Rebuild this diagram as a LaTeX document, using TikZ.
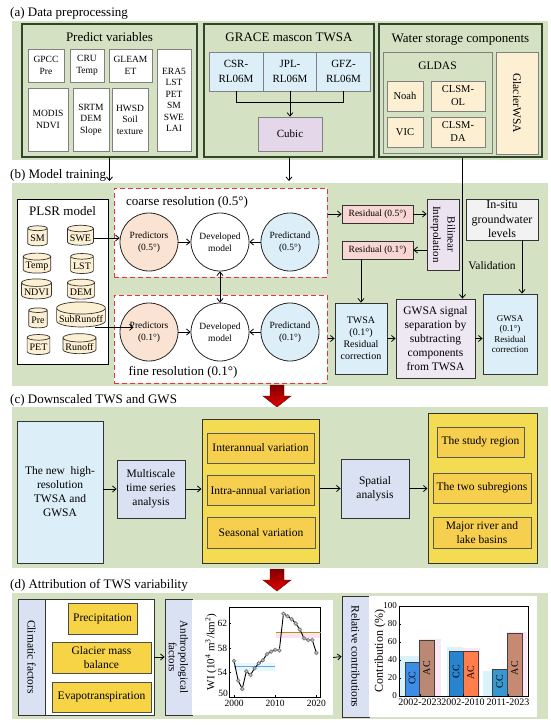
\documentclass[tikz,border=0pt]{standalone}
\usepackage{fontspec}
\setmainfont{Liberation Serif}
\usetikzlibrary{shapes.geometric,arrows.meta,positioning,calc}

\definecolor{bggreen}{HTML}{D4E2C3}
\definecolor{dkgreen}{HTML}{30452A}
\definecolor{ltblue}{HTML}{DCEEF8}
\definecolor{lilac}{HTML}{E4D7EA}
\definecolor{cream}{HTML}{FCEFD2}
\definecolor{peach}{HTML}{FBE3D3}
\definecolor{rosy}{HTML}{F8D6D3}
\definecolor{paleviolet}{HTML}{EEE8F2}
\definecolor{periwinkle}{HTML}{D9E1F2}
\definecolor{gold}{HTML}{F6CF4E}
\definecolor{goldlt}{HTML}{F4DC52}
\definecolor{dashred}{HTML}{E8323C}
\definecolor{ccblue}{HTML}{3D8DE8}
\definecolor{acbrown}{HTML}{C68A72}

\begin{document}
\begin{tikzpicture}[x=1pt,y=-1pt,>={Straight Barb[length=3.5pt,width=6pt]},
    every node/.style={align=center,inner sep=1pt},
    dims/.style 2 args={minimum width=#1pt,minimum height=#2pt},
    f9/.style={font=\fontsize{9}{10.5}\selectfont},
    f95/.style={font=\fontsize{9.5}{11.5}\selectfont},
    f10/.style={font=\fontsize{10}{12}\selectfont},
    f105/.style={font=\fontsize{10.5}{13}\selectfont},
    f11/.style={font=\fontsize{11}{14.5}\selectfont},
    f115/.style={font=\fontsize{11.5}{14}\selectfont},
    f12/.style={font=\fontsize{12}{14.5}\selectfont},
    f13/.style={font=\fontsize{13}{15}\selectfont},
    sectitle/.style={anchor=west,f13},
    grpbox/.style={draw=dkgreen,line width=1.4pt,fill=bggreen},
    varbox/.style={draw=gray,fill=white,line width=0.7pt,f95},
    mascon/.style={draw=gray,fill=ltblue,line width=0.7pt,dims={54}{39},f11},
    lsm/.style={draw=gray,fill=cream,line width=0.7pt,f105},
    mbox/.style={draw=black!80,line width=0.8pt},
    cyl/.style={cylinder,shape border rotate=90,aspect=0.25,draw=black!80,line width=0.7pt,
        fill=cream,minimum height=20pt,inner xsep=2.5pt,inner ysep=1pt,f10},
    circ/.style={circle,draw=black!85,line width=0.8pt,minimum size=58pt,inner sep=0pt,f95},
    resbox/.style={draw=dashred,dash pattern=on 5pt off 3pt,line width=1pt,fill=white},
    ybox/.style={draw=black!80,line width=1pt,fill=goldlt},
    ibox/.style={draw=black!65,line width=0.7pt,fill=gold,f115},
    dbox/.style={draw=black!70,line width=0.7pt,fill=gold!90!yellow,f115},
    lnk/.style={->,line width=0.8pt},
    wire/.style={line width=0.8pt}
]
\useasboundingbox (0,0) rectangle (550,726);

% (a) data preprocessing
\fill[bggreen] (12,21) rectangle (548,160);
\node[sectitle] (ta) at (9,13) {(a) Data preprocessing};

\node[grpbox,dims={175}{133}] (pv) at (109.5,90.5) {};
\node[f13] (pvt) at (109.5,37) {Predict variables};
\node[varbox,dims={36}{33}] (gpcc) at (46,65.5) {GPCC\\Pre};
\node[varbox,dims={34}{33}] (cru) at (87,65.5) {CRU\\Temp};
\node[varbox,dims={43}{33}] (gleam) at (130.5,65.5) {GLEAM\\ET};
\node[varbox,dims={34}{102}] (era5) at (174,100) {ERA5\\LST\\PET\\SM\\SWE\\LAI};
\node[varbox,dims={40}{63}] (modis) at (48,119.5) {MODIS\\NDVI};
\node[varbox,dims={36}{63}] (srtm) at (91,119.5) {SRTM\\DEM\\Slope};
\node[varbox,dims={36}{63}] (hwsd) at (130,119.5) {HWSD\\Soil\\texture};

\node[grpbox,dims={170}{133}] (grace) at (289,90.5) {};
\node[f13] (gracet) at (289,37) {GRACE mascon TWSA};
\node[mascon] (csr) at (236,71.5) {CSR-\\RL06M};
\node[mascon] (jpl) at (290,71.5) {JPL-\\RL06M};
\node[mascon] (gfz) at (343.5,71.5) {GFZ-\\RL06M};
\node[draw=gray,fill=lilac,line width=0.7pt,dims={64}{34},f11] (cubic) at (290,134) {Cubic};
\draw[wire] (csr.south) -- ++(0,11) -| (gfz.south);
\draw[lnk] (jpl.south) -- (cubic.north);

\node[grpbox,dims={163}{133}] (water) at (460.5,90.5) {};
\node[f13] (watert) at (460.5,40) {Water storage components};
\node[draw=gray,fill=bggreen,line width=0.7pt,dims={109}{101}] (gldas) at (437.5,102.5) {};
\node[f115] (gldast) at (437.5,66) {GLDAS};
\node[lsm,dims={36}{30}] (noah) at (405,96) {Noah};
\node[lsm,dims={54}{30}] (clsmol) at (458,96) {CLSM-\\OL};
\node[lsm,dims={36}{30}] (vic) at (405,132) {VIC};
\node[lsm,dims={54}{30}] (clsmda) at (458,132) {CLSM-\\DA};
\node[lsm,dims={42}{102}] (glacier) at (517,103) {};
\node[rotate=-90,f115] (glaciert) at (glacier) {GlacierWSA};

\coordinate (pvend) at (109.5,181);
\draw[lnk] (pv.south) -- (pvend);
\coordinate (graceend) at (289,181);
\draw[lnk] (grace.south) -- (graceend);

% (b) model training
\fill[bggreen] (12,183) rectangle (548,386);
\node[sectitle] (tb) at (9,175) {(b) Model training};

\node[draw=black,line width=0.9pt,fill=white,dims={91}{165}] (plsr) at (62.5,281.5) {};
\node[f13] (plsrt) at (62.5,211) {PLSR model};
\node[cyl] (sm) at (37.5,238) {SM};
\node[cyl] (swe) at (80.5,238) {SWE};
\node[cyl] (temp) at (37,266) {Temp};
\node[cyl] (lst) at (82,266) {LST};
\node[cyl] (ndvi) at (36.5,292) {NDVI};
\node[cyl] (dem) at (81,292) {DEM};
\node[cyl] (pre) at (38,320) {Pre};
\node[cyl] (subr) at (81,319) {SubRunoff};
\node[cyl] (pet) at (38.5,347) {PET};
\node[cyl] (runoff) at (79.5,347) {Runoff};

\node[resbox,dims={213}{89}] (coarse) at (220.5,232.5) {};
\node[f13] (coarset) at (187,202) {coarse resolution (0.5°)};
\node[circ,fill=peach] (pred5) at (149,242) {Predictors\\(0.5°)};
\node[circ,fill=white] (dev5) at (220,242) {Developed\\model};
\node[circ,fill=ltblue] (ptd5) at (290,242) {Predictand\\(0.5°)};

\node[resbox,dims={213}{88}] (fine) at (220.5,339) {};
\node[f13] (finet) at (183,372) {fine resolution (0.1°)};
\node[circ,fill=peach] (pred1) at (149,332) {Predictors\\(0.1°)};
\node[circ,fill=white] (dev1) at (220,332) {Developed\\model};
\node[circ,fill=ltblue] (ptd1) at (290,332) {Predictand\\(0.1°)};

\draw[lnk] (pred5) -- (dev5);
\draw[lnk] (ptd5) -- (dev5);
\draw[lnk] (pred1) -- (dev1);
\draw[lnk] (ptd1) -- (dev1);
\draw[lnk,<->] (dev5) -- (dev1);
\draw[lnk] (swe.east) -- (swe.east -| pred5.west);
\draw[lnk] ([xshift=14pt]subr.south) -- ([xshift=14pt]subr.south -| pred1.west);

\node[mbox,fill=rosy,dims={71}{18},f95] (res5) at (377.5,214) {Residual (0.5°)};
\node[mbox,fill=rosy,dims={71}{18},f95] (res1) at (377.5,250) {Residual (0.1°)};
\node[mbox,fill=lilac!70!white,dims={32}{71}] (bil) at (443,234.5) {};
\node[rotate=-90,f11] (bilt) at (bil) {Bilinear\\Interpolation};
\node[mbox,fill=black!5,dims={72}{41},f12] (insitu) at (502,219.5) {In-situ\\groundwater\\levels};
\node[f115] (valid) at (492,266) {Validation};
\node[mbox,fill=ltblue,dims={52}{71},f10] (twsa) at (361,338.5) {TWSA\\(0.1°)\\Residual\\correction};
\node[mbox,fill=paleviolet,dims={79}{79},f115] (gsig) at (435.5,338.5) {GWSA signal\\separation by\\subtracting\\components\\from TWSA};
\node[mbox,fill=ltblue,dims={54}{80},f9] (gw1) at (510,334) {GWSA\\(0.1°)\\Residual\\correction};

\draw[lnk] (coarse.east |- res5.west) -- (res5.west);
\draw[lnk] (res5.east) -- (res5.east -| bil.west);
\draw[lnk] (bil.west |- res1.east) -- (res1.east);
\draw[lnk] (res1.south -| twsa.north) -- (twsa.north);
\draw[lnk] (fine.east |- twsa.west) -- (twsa.west);
\draw[lnk] (twsa.east) -- (twsa.east -| gsig.west);
\draw[lnk] (gsig.east) -- (gsig.east -| gw1.west);
\draw[lnk] ([xshift=20pt]insitu.south) -- ([xshift=20pt]insitu.south |- gw1.north);
\draw[lnk] ([xshift=2pt]water.south) -- ([xshift=2pt]water.south |- gsig.north);

% red arrows between sections
\foreach \ya in {385,569}
  \shade[top color=red!50!black,bottom color=red!90!black,draw=red!40!black,line width=0.4pt]
    (270,\ya) -- (284,\ya) -- (284,\ya+11) -- (291,\ya+11) -- (277,\ya+22)
    -- (263,\ya+11) -- (270,\ya+11) -- cycle;

% (c) downscaled TWS and GWS
\fill[bggreen] (12,407) rectangle (548,568);
\node[sectitle] (tc) at (9,400) {(c) Downscaled TWS and GWS};

\node[mbox,fill=ltblue,dims={86}{142},f115] (hires) at (60,492) {The new~ high-\\resolution\\TWSA and\\GWSA};
\node[mbox,fill=periwinkle,dims={68}{58},f115] (mts) at (151,489) {Multiscale\\time series\\analysis};
\node[ybox,dims={117}{144}] (tvar) at (260.5,491) {};
\node[ibox,dims={107}{30}] (inter) at (260.5,448) {Interannual variation};
\node[ibox,dims={107}{30}] (intra) at (260.5,490.5) {Intra-annual variation};
\node[ibox,dims={108}{31}] (seas) at (261,532.5) {Seasonal variation};
\node[mbox,fill=periwinkle,dims={68}{59},f115] (spat) at (375,488.5) {Spatial\\analysis};
\node[ybox,dims={109}{150}] (sreg) at (482.5,488) {};
\node[ibox,dims={87}{30}] (study) at (480.5,442) {The study region};
\node[ibox,dims={98}{30}] (twosub) at (482,488) {The two subregions};
\node[ibox,dims={98}{31}] (basins) at (482,532.5) {Major river and\\lake basins};

\draw[lnk] (hires.east |- mts.west) -- (mts.west);
\draw[lnk] (mts.east) -- (mts.east -| tvar.west);
\draw[lnk] (tvar.east |- spat.west) -- (spat.west);
\draw[lnk] (spat.east) -- (spat.east -| sreg.west);

% (d) attribution of TWS variability
\fill[bggreen] (12,593) rectangle (548,719);
\node[sectitle] (td) at (9,585) {(d) Attribution of TWS variability};

\node[mbox,fill=periwinkle,dims={27}{116}] (clim) at (31.5,657) {};
\node[rotate=-90,f115] (climt) at (clim) {Climatic factors};
\node[mbox,fill=white,dims={109}{116}] (cfac) at (99.5,657) {};
\node[dbox,dims={69}{31}] (prec) at (102.5,618.5) {Precipitation};
\node[dbox,dims={99}{31}] (gmb) at (101.5,657.5) {Glacier mass\\balance};
\node[dbox,dims={99}{30}] (evap) at (101.5,697) {Evapotranspiration};
\node[mbox,fill=periwinkle,dims={27}{116}] (anth) at (178.5,657) {};
\node[rotate=-90,font=\fontsize{11}{11.5}\selectfont] (antht) at (anth) {Anthropological\\factors};
\draw[lnk] (cfac.east) -- (anth.west);

\node[fill=white,dims={141}{115}] (wipanel) at (262.5,657.5) {};
\node[rotate=90,f11] (wilab) at (211,652) {WI (10\textsuperscript{4} m\textsuperscript{3}/km\textsuperscript{2})};
\begin{scope}[shift={(234,697)},x=4.12pt,y=6.125pt]
  \fill[cyan!10] (0,4.3) rectangle (10,5.5);
  \fill[magenta!12] (10.1,9.6) rectangle (21,10.5);
  \draw[line width=0.8pt] (-1.2,0) rectangle (21,14.7);
  \foreach \t/\l in {4/54,8/58,12/62} {
    \draw (-1.2,\t) -- ++(2pt,0);
    \node[anchor=east,f95] at (-1.4,\t) {\l};
  }
  \node[anchor=south east,f95] (lab50) at (-1.2,-0.2) {50};
  \foreach \t/\l in {0/2000,10/2010,20/2020} {
    \draw (\t,0) -- ++(0,2pt);
    \node[anchor=north,f95] at (\t,-0.25) {\l};
  }
  \draw[line width=1pt,color=ccblue!80] (0,4.9) -- (10,4.9);
  \draw[line width=1.2pt,color=olive!80!yellow] (10.1,10.5) -- (21,10.5);
  \draw[line width=0.9pt] plot[mark=*,mark size=1.7pt,mark options={fill=gray!30,draw=gray}]
    coordinates {(0,5.9) (1,2.7) (2,1.3) (3,4.2) (4,3.6) (5,4.7) (6,5.5) (7,6.0) (8,7.0)
      (9,7.4) (10,7.7) (11,7.6) (12,13.6) (13,13.2) (14,12.7) (15,12.0) (16,11.0)
      (17,9.6) (18,9.3) (19,9.3) (20,7.2)};
\end{scope}

\node[mbox,fill=periwinkle,dims={27}{121}] (rel) at (355.5,656.5) {};
\node[rotate=-90,f115] (relt) at (rel) {Relative contributions};
\draw[lnk] (wipanel.east) -- (rel.west);

\node[fill=white,dims={168}{121}] (barpanel) at (453,656.5) {};
\node[rotate=90,f12] (contlab) at (380,651) {Contribution (\%)};
\begin{scope}[shift={(399,696)},x=1pt,y=0.9pt]
  \fill[cyan!15] (1,0) rectangle (20,44);
  \fill[magenta!10] (20,0) rectangle (42,63);
  \fill[cyan!15] (48,0) rectangle (64,54);
  \fill[magenta!10] (64,0) rectangle (81,53);
  \fill[cyan!15] (84,0) rectangle (108,28);
  \fill[magenta!10] (108,0) rectangle (128,71);
  \foreach \a/\b/\h/\c in {6/20/38/ccblue,20/35/62/acbrown!85!gray,50/64/50/cyan!60!blue!90,
      64/79/50/red!45!orange!70,93/108/30/ccblue!90!green,108/123/70/acbrown}
    \draw[fill=\c,line width=0.6pt,draw=black!75] (\a,0) rectangle (\b,\h);
  \draw[line width=0.8pt] (0,0) rectangle (129,100);
  \foreach \t in {0,20,...,100} {
    \draw (0,\t) -- ++(2pt,0);
    \node[anchor=east,f9] at (-1,\t) {\t};
  }
  \foreach \g/\l in {21/2002-2023,64/2002-2010,109/2011-2023} {
    \draw (\g,0) -- ++(0,2pt);
    \node[anchor=north,f10] at (\g,-2) {\l};
  }
  \foreach \g/\h/\l in {13/20/CC,27.5/31/AC,57/27/CC,71.5/26/AC,100.5/16/CC,115.5/31/AC}
    \node[rotate=90,f10] at (\g,\h) {\l};
\end{scope}
\end{tikzpicture}
\end{document}
